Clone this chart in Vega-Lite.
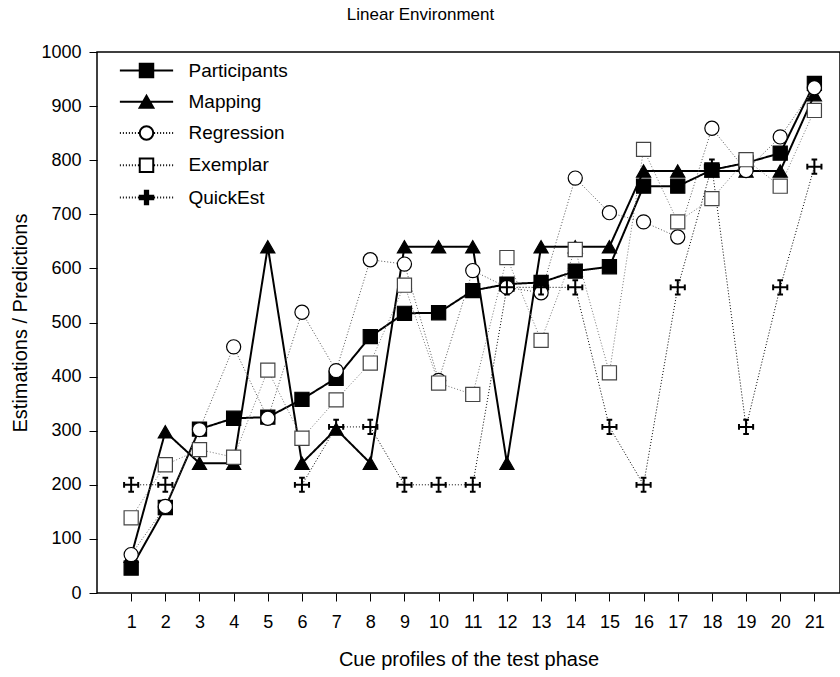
{
  "$schema": "https://vega.github.io/schema/vega-lite/v6.json",
  "autosize": "none",
  "padding": {"left": 97, "top": 52, "right": 0, "bottom": 84},
  "width": 743,
  "height": 541,
  "background": "white",
  "config": {
    "font": "Liberation Sans",
    "view": {"stroke": "black", "strokeWidth": 1.5},
    "axis": {"grid": false, "domain": false, "tickColor": "black", "tickSize": 8, "tickWidth": 1, "labelColor": "black", "titleColor": "black", "labelFontSize": 18, "titleFontSize": 20, "titleFontWeight": "normal", "labelFont": "Liberation Sans", "titleFont": "Liberation Sans"},
    "legend": {"title": null, "orient": "top-left", "offset": 9, "padding": 0, "symbolSize": 225, "rowPadding": 9.25, "labelFontSize": 19, "labelOffset": 63.5, "labelColor": "black", "labelFont": "Liberation Sans", "symbolStrokeColor": "black", "symbolOpacity": 1}
  },
  "title": {"text": "Linear Environment", "fontSize": 17, "fontWeight": "normal", "font": "Liberation Sans", "color": "black", "anchor": "middle", "offset": 19, "dx": -48},
  "data": {"values": [
    {"profile": 1, "model": "Participants", "value": 46},
    {"profile": 2, "model": "Participants", "value": 158},
    {"profile": 3, "model": "Participants", "value": 303},
    {"profile": 4, "model": "Participants", "value": 323},
    {"profile": 5, "model": "Participants", "value": 325},
    {"profile": 6, "model": "Participants", "value": 358},
    {"profile": 7, "model": "Participants", "value": 397},
    {"profile": 8, "model": "Participants", "value": 474},
    {"profile": 9, "model": "Participants", "value": 517},
    {"profile": 10, "model": "Participants", "value": 518},
    {"profile": 11, "model": "Participants", "value": 559},
    {"profile": 12, "model": "Participants", "value": 571},
    {"profile": 13, "model": "Participants", "value": 574},
    {"profile": 14, "model": "Participants", "value": 595},
    {"profile": 15, "model": "Participants", "value": 603},
    {"profile": 16, "model": "Participants", "value": 752},
    {"profile": 17, "model": "Participants", "value": 752},
    {"profile": 18, "model": "Participants", "value": 782},
    {"profile": 19, "model": "Participants", "value": 795},
    {"profile": 20, "model": "Participants", "value": 813},
    {"profile": 21, "model": "Participants", "value": 942},
    {"profile": 1, "model": "Mapping", "value": 68},
    {"profile": 2, "model": "Mapping", "value": 298},
    {"profile": 3, "model": "Mapping", "value": 240},
    {"profile": 4, "model": "Mapping", "value": 240},
    {"profile": 5, "model": "Mapping", "value": 640},
    {"profile": 6, "model": "Mapping", "value": 240},
    {"profile": 7, "model": "Mapping", "value": 303},
    {"profile": 8, "model": "Mapping", "value": 240},
    {"profile": 9, "model": "Mapping", "value": 640},
    {"profile": 10, "model": "Mapping", "value": 640},
    {"profile": 11, "model": "Mapping", "value": 640},
    {"profile": 12, "model": "Mapping", "value": 240},
    {"profile": 13, "model": "Mapping", "value": 640},
    {"profile": 14, "model": "Mapping", "value": 640},
    {"profile": 15, "model": "Mapping", "value": 640},
    {"profile": 16, "model": "Mapping", "value": 780},
    {"profile": 17, "model": "Mapping", "value": 780},
    {"profile": 18, "model": "Mapping", "value": 780},
    {"profile": 19, "model": "Mapping", "value": 780},
    {"profile": 20, "model": "Mapping", "value": 780},
    {"profile": 21, "model": "Mapping", "value": 921},
    {"profile": 1, "model": "Regression", "value": 71},
    {"profile": 2, "model": "Regression", "value": 160},
    {"profile": 3, "model": "Regression", "value": 302},
    {"profile": 4, "model": "Regression", "value": 455},
    {"profile": 5, "model": "Regression", "value": 323},
    {"profile": 6, "model": "Regression", "value": 519},
    {"profile": 7, "model": "Regression", "value": 411},
    {"profile": 8, "model": "Regression", "value": 616},
    {"profile": 9, "model": "Regression", "value": 608},
    {"profile": 10, "model": "Regression", "value": 393},
    {"profile": 11, "model": "Regression", "value": 596},
    {"profile": 12, "model": "Regression", "value": 565},
    {"profile": 13, "model": "Regression", "value": 555},
    {"profile": 14, "model": "Regression", "value": 767},
    {"profile": 15, "model": "Regression", "value": 703},
    {"profile": 16, "model": "Regression", "value": 686},
    {"profile": 17, "model": "Regression", "value": 658},
    {"profile": 18, "model": "Regression", "value": 859},
    {"profile": 19, "model": "Regression", "value": 781},
    {"profile": 20, "model": "Regression", "value": 843},
    {"profile": 21, "model": "Regression", "value": 934},
    {"profile": 1, "model": "Exemplar", "value": 139},
    {"profile": 2, "model": "Exemplar", "value": 237},
    {"profile": 3, "model": "Exemplar", "value": 265},
    {"profile": 4, "model": "Exemplar", "value": 251},
    {"profile": 5, "model": "Exemplar", "value": 412},
    {"profile": 6, "model": "Exemplar", "value": 286},
    {"profile": 7, "model": "Exemplar", "value": 357},
    {"profile": 8, "model": "Exemplar", "value": 425},
    {"profile": 9, "model": "Exemplar", "value": 569},
    {"profile": 10, "model": "Exemplar", "value": 388},
    {"profile": 11, "model": "Exemplar", "value": 367},
    {"profile": 12, "model": "Exemplar", "value": 620},
    {"profile": 13, "model": "Exemplar", "value": 467},
    {"profile": 14, "model": "Exemplar", "value": 635},
    {"profile": 15, "model": "Exemplar", "value": 407},
    {"profile": 16, "model": "Exemplar", "value": 820},
    {"profile": 17, "model": "Exemplar", "value": 686},
    {"profile": 18, "model": "Exemplar", "value": 729},
    {"profile": 19, "model": "Exemplar", "value": 801},
    {"profile": 20, "model": "Exemplar", "value": 752},
    {"profile": 21, "model": "Exemplar", "value": 892},
    {"profile": 1, "model": "QuickEst", "value": 200},
    {"profile": 2, "model": "QuickEst", "value": 200},
    {"profile": 3, "model": "QuickEst", "value": null},
    {"profile": 4, "model": "QuickEst", "value": null},
    {"profile": 5, "model": "QuickEst", "value": null},
    {"profile": 6, "model": "QuickEst", "value": 200},
    {"profile": 7, "model": "QuickEst", "value": 307},
    {"profile": 8, "model": "QuickEst", "value": 307},
    {"profile": 9, "model": "QuickEst", "value": 200},
    {"profile": 10, "model": "QuickEst", "value": 200},
    {"profile": 11, "model": "QuickEst", "value": 200},
    {"profile": 12, "model": "QuickEst", "value": 565},
    {"profile": 13, "model": "QuickEst", "value": 565},
    {"profile": 14, "model": "QuickEst", "value": 565},
    {"profile": 15, "model": "QuickEst", "value": 307},
    {"profile": 16, "model": "QuickEst", "value": 200},
    {"profile": 17, "model": "QuickEst", "value": 565},
    {"profile": 18, "model": "QuickEst", "value": 788},
    {"profile": 19, "model": "QuickEst", "value": 307},
    {"profile": 20, "model": "QuickEst", "value": 565},
    {"profile": 21, "model": "QuickEst", "value": 788}
  ]},
  "encoding": {
    "x": {"field": "profile", "type": "quantitative", "scale": {"domain": [0, 21.75], "nice": false, "zero": false},
      "axis": {"values": [1,2,3,4,5,6,7,8,9,10,11,12,13,14,15,16,17,18,19,20,21], "format": "d", "labelPadding": 12, "title": "Cue profiles of the test phase", "titlePadding": 18}},
    "y": {"field": "value", "type": "quantitative", "scale": {"domain": [0, 1000], "nice": false},
      "axis": {"values": [0,100,200,300,400,500,600,700,800,900,1000], "format": "d", "labelPadding": 8, "title": "Estimations / Predictions", "titlePadding": 10}}
  },
  "layer": [
    {
      "mark": {"type": "line", "strokeCap": "butt"},
      "encoding": {
        "detail": {"field": "model", "type": "nominal"},
        "order": {"field": "profile", "type": "quantitative"},
        "stroke": {"condition": [{"test": "datum.model === 'Regression'", "value": "#555555"}, {"test": "datum.model === 'Exemplar'", "value": "#777777"}], "value": "#000000"},
        "strokeDash": {"condition": {"test": "datum.model === 'Participants' || datum.model === 'Mapping'", "value": [1, 0]}, "value": [1, 2]},
        "strokeWidth": {"condition": {"test": "datum.model === 'Participants' || datum.model === 'Mapping'", "value": 2}, "value": 1}
      }
    },
    {
      "mark": {"type": "point", "size": 200, "opacity": 1, "fillOpacity": 1, "strokeOpacity": 1},
      "encoding": {
        "shape": {"field": "model", "type": "nominal", "legend": null,
          "scale": {"domain": ["Participants", "Mapping", "Regression", "Exemplar", "QuickEst"], "range": ["square", "triangle-up", "circle", "square", "M-1,0H1M0,-1V1M-1,-0.4V0.4M1,-0.4V0.4M-0.4,-1H0.4M-0.4,1H0.4"]}},
        "fill": {"condition": {"test": "datum.model === 'Participants' || datum.model === 'Mapping'", "value": "#000000"}, "value": "#ffffff"},
        "stroke": {"condition": {"test": "datum.model === 'Exemplar'", "value": "#444444"}, "value": "#000000"},
        "strokeWidth": {"condition": {"test": "datum.model === 'QuickEst'", "value": 2}, "value": 1.2}
      }
    },
    {
      "transform": [{"filter": "false"}],
      "mark": {"type": "point", "filled": true, "opacity": 1, "stroke": "black", "strokeWidth": 1},
      "encoding": {
        "shape": {"field": "model", "type": "nominal",
          "scale": {"domain": ["Participants", "Mapping", "Regression", "Exemplar", "QuickEst"], "range": [
            "M0.583,0H7.683M3.233,-0.9H5.033V0.9H3.233Z",
            "M0.583,0H7.683M4.133,-0.8L5.053,0.8H3.213Z",
            "M0.583,0H0.713M0.983,0H1.113M1.383,0H1.513M1.783,0H1.913M2.183,0H2.313M2.583,0H2.713M2.983,0H3.113M5.153,0H5.283M5.553,0H5.683M5.953,0H6.083M6.353,0H6.483M6.753,0H6.883M7.153,0H7.283M7.553,0H7.683M5.033,0A0.9,0.9 0 1,1 3.233,0A0.9,0.9 0 1,1 5.033,0Z",
            "M0.583,0H0.713M0.983,0H1.113M1.383,0H1.513M1.783,0H1.913M2.183,0H2.313M2.583,0H2.713M2.983,0H3.113M5.153,0H5.283M5.553,0H5.683M5.953,0H6.083M6.353,0H6.483M6.753,0H6.883M7.153,0H7.283M7.553,0H7.683M3.233,-0.9H5.033V0.9H3.233Z",
            "M0.583,0H0.713M0.983,0H1.113M1.383,0H1.513M1.783,0H1.913M2.183,0H2.313M2.583,0H2.713M2.983,0H3.113M5.153,0H5.283M5.553,0H5.683M5.953,0H6.083M6.353,0H6.483M6.753,0H6.883M7.153,0H7.283M7.553,0H7.683M3.913,-0.9H4.353V-0.22H5.033V0.22H4.353V0.9H3.913V0.22H3.233V-0.22H3.913Z"
          ]}},
        "fill": {"field": "model", "type": "nominal",
          "scale": {"domain": ["Participants", "Mapping", "Regression", "Exemplar", "QuickEst"], "range": ["#000000", "#000000", "#ffffff", "#ffffff", "#000000"]}},
        "stroke": {"field": "model", "type": "nominal",
          "scale": {"domain": ["Participants", "Mapping", "Regression", "Exemplar", "QuickEst"], "range": ["#000000", "#000000", "#000000", "#000000", "#000000"]}},
        "strokeWidth": {"field": "model", "type": "nominal",
          "scale": {"domain": ["Participants", "Mapping", "Regression", "Exemplar", "QuickEst"], "range": [2, 2, 1, 1, 1]}}
      }
    }
  ],
  "resolve": {"scale": {"shape": "independent", "fill": "independent", "stroke": "independent", "strokeWidth": "independent"}, "legend": {"shape": "independent", "fill": "independent", "stroke": "independent", "strokeWidth": "independent"}}
}
